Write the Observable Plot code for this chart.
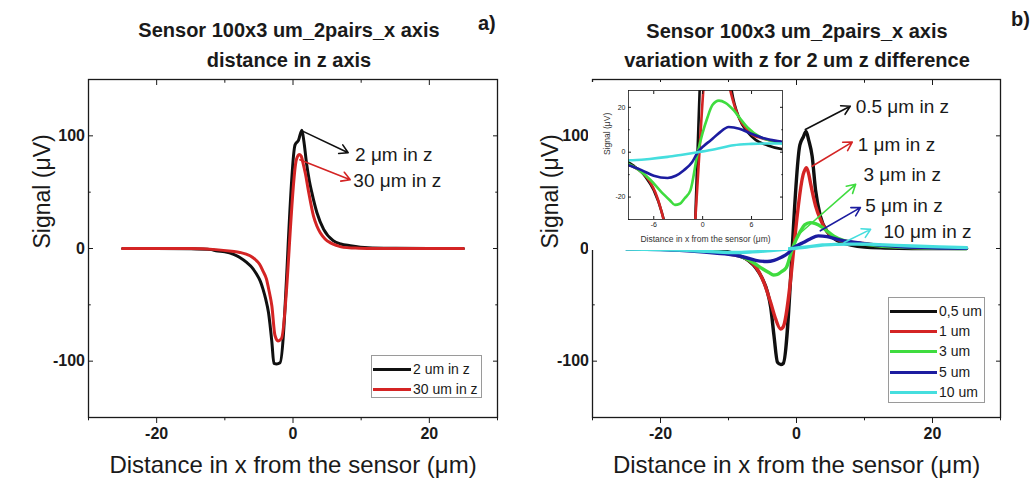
<!DOCTYPE html>
<html><head><meta charset="utf-8">
<script src="https://cdn.jsdelivr.net/npm/d3@7"></script>
<script src="https://cdn.jsdelivr.net/npm/@observablehq/plot@0.6"></script>
<style>
body{margin:0;background:#fff;}
#wrap{position:relative;width:1035px;height:481px;font-family:"Liberation Sans",Arial,sans-serif;overflow:hidden;background:#fff;color:#1a1a1a}
#wrap svg{position:absolute;overflow:visible}
.title{position:absolute;font-weight:bold;font-size:20px;text-align:center;line-height:30px;white-space:nowrap}
.tag{position:absolute;font-weight:bold;font-size:20px}
.legend{position:absolute;border:1px solid #9a9a9a;background:#fff;font-size:14px}
.legend .row{position:absolute;left:0;height:20px;line-height:20px;white-space:nowrap}
.legend .sw{position:absolute;left:1px;top:9px;height:3px}
.legend .lb{position:absolute;top:0}
</style></head>
<body><div id="wrap"></div>
<script>
// ---------- data ----------
const xTicks = [-20, 0, 20];
const xMinor = [-30, -10, 10, 30];
const yTicks = [100, 0, -100];
const yMinor = [-150, -50, 50, 150];
const insetXTicks = [-6, 0, 6];
const insetYTicks = [20, 0, -20];
const insetYMinor = [-30, -10, 10];

// panel a
const a_x_2um  = [-25,-20,-15,-12,-11.3,-10,-8.8,-7.8,-6.8,-6,-5.35,-4.8,-4.4,-4,-3.6,-3.1,-2.8,-2.4,-1.9,0.3,0.8,1.3,1.6,2.0,2.4,2.75,3.5,4.5,5.9,7,8.4,11,15,20,25];
const a_y_2um  = [0,0,-0.3,-1,-2,-3,-5,-8,-12.4,-17,-22.7,-29,-36,-45,-56.6,-83,-102,-102.5,-101.5,92,96,105,95,75,60,50,32,17,7,4,2.5,0.7,0.2,0,0];
const a_x_30um = [-25,-20,-15,-11.3,-9,-7.8,-6.3,-5.5,-4.9,-4.4,-3.9,-3.5,-3.1,-2.65,-2.2,-1.7,0.5,0.9,1.2,1.5,1.8,2.3,3.0,3.5,4.0,4.7,5.5,6.5,7.4,9,10.9,15,20,25];
const a_y_30um = [0,0,0,-1,-2.5,-3.5,-6.5,-10,-14,-20,-27,-38,-51,-77,-82,-80,79,83.5,82,75,67,50,29,20,14,8.5,5,2.5,1,0.4,0,0,0,0];

// panel b
const b_x_05 = [-25,-20,-15,-12,-10,-8.5,-7,-6,-5,-4.3,-3.8,-3.3,-2.8,-2.3,-1.95,0.5,1.0,1.4,1.8,2.3,2.8,3.5,4.5,5.5,6.5,8,10,13,17,25];
const b_y_05 = [0,-0.2,-0.5,-1.5,-3,-6,-11,-17,-27,-38,-52,-78,-101,-103,-102,92,99,104,96,82,52,29,15,9,5.5,3,1.2,0.4,0,0];
const b_x_1  = [-25,-20,-15,-12,-9.7,-8.5,-7.25,-6.5,-5.8,-4.8,-3.8,-3.1,-2.35,-2.0,1.1,1.47,1.8,2.06,2.8,3.5,4.5,5.5,6.0,7.0,8.5,9.8,12,15,20,25];
const b_y_1  = [0,-0.5,-1.5,-3,-5,-6.5,-9.5,-13,-18,-30,-48,-62,-71.4,-70,68,71.7,66,58,38,26,15,10,8,6.5,5.2,4.5,2.8,1.5,0.5,0.2];
const b_x_3  = [-25,-20,-15,-12,-9.1,-7.8,-6.4,-5,-4,-3.4,-2.8,-2.2,-1.5,-0.6,0.6,1.2,2.0,2.8,3.8,4.6,5.5,7.1,8.5,9.8,12,15,20,25];
const b_y_3  = [0,-0.5,-1.5,-3,-5.2,-8,-12.4,-18,-21.5,-23.5,-23,-20.5,-17,0,15.6,21,23,22,18.7,15,11,6.7,5,4,2.5,1.2,0.3,0];
const b_x_5  = [-25,-20,-15,-12,-9.1,-7.5,-6,-4.3,-3.3,-2.3,-1.3,-0.6,0.2,1.0,2.0,3.2,4.5,5.9,7.5,9.7,12,15,20,25];
const b_y_5  = [-0.3,-1,-2.5,-4,-5.8,-8,-10.5,-11.5,-10.5,-8,-4.5,0,3,5.3,8.5,11.2,10.5,8.3,6.2,4.6,3,1.8,0.6,0.2];
const b_x_10 = [-25,-20,-15,-12,-9,-6.5,-4.3,-2.5,-0.6,1.5,3.8,6,8,10,13,17,21,25];
const b_y_10 = [-0.5,-1,-2,-3,-3.6,-3,-2.1,-1.1,0,1.3,3.1,3.7,3.9,3.9,3.2,2.2,1.4,0.8];

// annotations (data units): label, arrow from (x1,y1) to (x2,y2), label at (lx,ly)
const a_annLabels = ["2 \u03bcm in z", "30 \u03bcm in z"];
const a_annX1 = [1.33, 1.0], a_annY1 = [104.4, 78.8];
const a_annX2 = [8.1, 8.4],  a_annY2 = [85, 61];
const a_annLX = [9.1, 8.85], a_annLY = [83, 60];

const b_annLabels = ["0.5 \u03bcm in z", "1 \u03bcm in z", "3 \u03bcm in z", "5 \u03bcm in z", "10 \u03bcm in z"];
const b_annX1 = [1.3, 2.3, 0.6, 3.5, 7.0],   b_annY1 = [105.6, 73, 14, 15.7, 5.3];
const b_annX2 = [7.9, 8.2, 8.7, 9.4, 10.9],  b_annY2 = [126.3, 94.4, 57, 36.3, 17];
const b_annLX = [8.7, 9.0, 9.85, 10.1, 12.8], b_annLY = [125.7, 92, 65.5, 38, 15];

const colors = {black:"#101010", red:"#d42424", green:"#3fdc3f", blue:"#1c1ca0", cyan:"#45dede"};
const a_series = [
  {name:"2 um in z", xs:a_x_2um, ys:a_y_2um, color:colors.black},
  {name:"30 um in z", xs:a_x_30um, ys:a_y_30um, color:colors.red}
];
const b_series = [
  {name:"0,5 um", xs:b_x_05, ys:b_y_05, color:colors.black},
  {name:"1 um", xs:b_x_1, ys:b_y_1, color:colors.red},
  {name:"3 um", xs:b_x_3, ys:b_y_3, color:colors.green},
  {name:"5 um", xs:b_x_5, ys:b_y_5, color:colors.blue},
  {name:"10 um", xs:b_x_10, ys:b_y_10, color:colors.cyan}
];

// ---------- helpers ----------
const fmt = d => `${d}`;
const none = () => "";
const FONT = "Liberation Sans, Arial, sans-serif";
const rows = s => s.xs.map((x, i) => ({x, y: s.ys[i]}));
const ann = (labels, x1, y1, x2, y2, lx, ly, cols) =>
  labels.map((t, i) => ({t, x1:x1[i], y1:y1[i], x2:x2[i], y2:y2[i], lx:lx[i], ly:ly[i], c:cols[i]}));

function axes(xM, xm, yM, ym, o) {
  const base = {label:null, stroke: "#1a1a1a"};
  return [
    Plot.axisX({...base, ticks:xM, tickSize:o.xout, tickPadding:o.xpad, tickFormat:fmt, fontSize:o.fs, fontWeight:o.fw}),
    Plot.axisX({...base, ticks:xm, tickSize:o.xout*0.55, tickFormat:none}),
    Plot.axisX({...base, anchor:"top", ticks:xM, tickSize:-o.inn, tickFormat:none}),
    Plot.axisX({...base, anchor:"top", ticks:xm, tickSize:-o.inn*0.55, tickFormat:none}),
    Plot.axisY({...base, ticks:yM, tickSize:o.yout, tickPadding:o.ypad, tickFormat:fmt, fontSize:o.fs, fontWeight:o.fw}),
    Plot.axisY({...base, ticks:ym, tickSize:o.yout*0.55, tickFormat:none}),
    Plot.axisY({...base, anchor:"right", ticks:yM, tickSize:-o.inn, tickFormat:none}),
    Plot.axisY({...base, anchor:"right", ticks:ym, tickSize:-o.inn*0.55, tickFormat:none}),
    Plot.frame({stroke:"#1a1a1a", strokeWidth:o.fsw})
  ];
}

function panel(series, annData, opts) {
  return Plot.plot({
    width: 518, height: 481,
    marginLeft: opts.ml, marginRight: opts.mr, marginTop: 79, marginBottom: 64,
    x: {domain: [-30, 30]}, y: {domain: [-150, 150]},
    style: {fontFamily: FONT, background: "transparent", color: "#1a1a1a"},
    marks: [
      ...series.map(s => Plot.line(rows(s), {x:"x", y:"y", stroke:s.color, strokeWidth:opts.sw, curve:"monotone-x"})),
      Plot.arrow(annData, {x1:"x1", y1:"y1", x2:"x2", y2:"y2", stroke:"c", strokeWidth:1.6, headLength:9}),
      Plot.text(annData, {x:"lx", y:"ly", text:"t", textAnchor:"start", fontSize:19, fill:"#1a1a1a"}),
      ...axes(xTicks, xMinor, yTicks, yMinor, {xout:6, yout:-5, inn:5, xpad:4, ypad:8.5, fs:16, fw:"bold", fsw:1.3}),
      Plot.text(["Distance in x from the sensor (\u03bcm)"], {frameAnchor:"bottom", lineAnchor:"middle", dy:48, fontSize:24}),
      Plot.text(["Signal (\u03bcV)"], {frameAnchor:"left", lineAnchor:"middle", rotate:-90, dx:opts.ylab, fontSize:23})
    ]
  });
}

function inset(series) {
  return Plot.plot({
    width: 200, height: 168,
    marginLeft: 40, marginRight: 6, marginTop: 8, marginBottom: 31,
    x: {domain: [-9.1, 9.8]}, y: {domain: [-30, 27.5]},
    style: {fontFamily: FONT, background: "#fff", color: "#1a1a1a"},
    marks: [
      ...series.map(s => Plot.line(rows(s), {x:"x", y:"y", stroke:s.color, strokeWidth:2.6, curve:"monotone-x", clip:true})),
      ...axes(insetXTicks, [], insetYTicks, insetYMinor, {xout:-3, yout:-3, inn:3, xpad:6, ypad:6, fs:7, fw:"normal", fsw:0.8}),
      Plot.text(["Distance in x from the sensor (\u03bcm)"], {frameAnchor:"bottom", lineAnchor:"middle", dy:20, fontSize:8.5, fill:"#333"}),
      Plot.text(["Signal (\u03bcV)"], {frameAnchor:"left", lineAnchor:"middle", rotate:-90, dx:-21, fontSize:8.5, fill:"#333"})
    ]
  });
}

// ---------- build ----------
const wrap = document.getElementById("wrap");
const pa = panel(a_series, ann(a_annLabels, a_annX1, a_annY1, a_annX2, a_annY2, a_annLX, a_annLY, [colors.black, colors.red]), {ml:88, mr:21, sw:3, ylab:-46});
pa.style.left = "0px"; pa.style.top = "0px";
wrap.appendChild(pa);

const pb = panel(b_series, ann(b_annLabels, b_annX1, b_annY1, b_annX2, b_annY2, b_annLX, b_annLY, [colors.black, colors.red, colors.green, colors.blue, colors.cyan]), {ml:75, mr:35, sw:3.4, ylab:-42});
pb.style.left = "517px"; pb.style.top = "0px";
wrap.appendChild(pb);

const pi = inset(b_series);
pi.style.left = "588px"; pi.style.top = "82px";
wrap.appendChild(pi);

function addDiv(cls, html, css) {
  const d = document.createElement("div");
  d.className = cls; d.innerHTML = html; Object.assign(d.style, css); wrap.appendChild(d); return d;
}
addDiv("title", "Sensor 100x3 um_2pairs_x axis<br>distance in z axis", {left:"89px", width:"400px", top:"15px"});
addDiv("title", "Sensor 100x3 um_2pairs_x axis<br>variation with z for 2 um z difference", {left:"597px", width:"400px", top:"17px", lineHeight:"29px"});
addDiv("tag", "a)", {left:"478px", top:"12px"});
addDiv("tag", "b)", {left:"1011px", top:"8px"});

function legend(series, box, rowH, swW) {
  const L = addDiv("legend", "", {left:box.x+"px", top:box.y+"px", width:box.w+"px", height:box.h+"px"});
  series.forEach((s, i) => {
    const r = document.createElement("div");
    r.className = "row"; r.style.top = (3 + i*rowH) + "px"; r.style.width = box.w + "px";
    r.innerHTML = `<div class="sw" style="width:${swW}px;background:${s.color}"></div><div class="lb" style="left:${swW+3}px">${s.name}</div>`;
    L.appendChild(r);
  });
}
legend(a_series, {x:371, y:355, w:109, h:41}, 20, 38);
legend(b_series, {x:888, y:297, w:95, h:104}, 20.2, 47);
</script></body></html>
